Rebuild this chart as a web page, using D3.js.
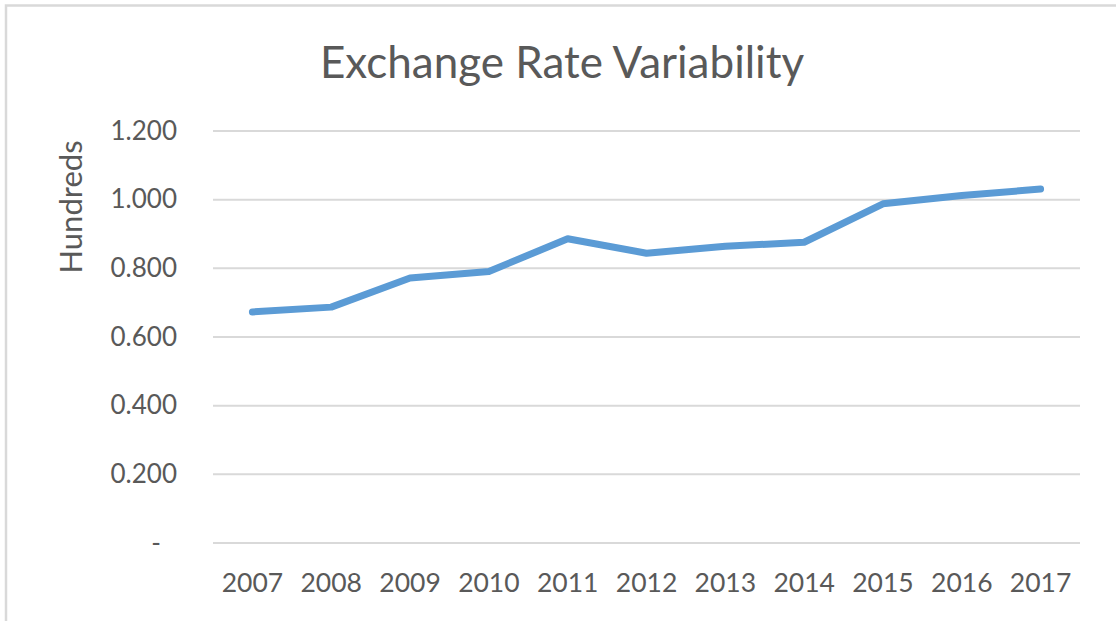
<!DOCTYPE html>
<html>
<head>
<meta charset="utf-8">
<script src="https://cdn.jsdelivr.net/npm/d3@7"></script>
<style>
  body { margin: 0; background: #fff; }
  text { font-family: Lato, "Open Sans", sans-serif; fill: #595959; }
</style>
</head>
<body>
<div id="chart"></div>
<script>
// dados
var years = ["2007", "2008", "2009", "2010", "2011", "2012", "2013", "2014", "2015", "2016", "2017"];
var values = [0.673, 0.687, 0.772, 0.791, 0.886, 0.844, 0.864, 0.876, 0.988, 1.012, 1.031];
var yTicks = [0, 0.2, 0.4, 0.6, 0.8, 1.0, 1.2];

var W = 1116, H = 621;
var margin = { top: 131, right: 36, bottom: 78, left: 213 },
  width = 1080 - margin.left,
  height = 543 - margin.top;

var svg = d3.select("#chart")
  .append("svg")
  .attr("width", W)
  .attr("height", H);

// borda do gráfico (só topo e esquerda aparecem)
svg.append("rect")
  .attr("x", 6)
  .attr("y", 5.5)
  .attr("width", 1300)
  .attr("height", 800)
  .attr("fill", "none")
  .attr("stroke", "#d9d9d9")
  .attr("stroke-width", 2.5);

svg.append("text")
  .attr("x", 562)
  .attr("y", 78)
  .attr("text-anchor", "middle")
  .style("font-size", "44px")
  .text("Exchange Rate Variability");

var g = svg.append("g")
  .attr("transform", "translate(" + margin.left + "," + margin.top + ")");

var x = d3.scaleBand()
  .domain(years)
  .range([0, width]);

var y = d3.scaleLinear()
  .domain([0, 1.2])
  .range([height, 0]);

// grid
g.append("g")
  .selectAll("line")
  .data(yTicks)
  .enter()
  .append("line")
  .attr("x1", 0)
  .attr("x2", width)
  .attr("y1", function (d) { return y(d) })
  .attr("y2", function (d) { return y(d) })
  .attr("stroke", "#d9d9d9")
  .attr("stroke-width", 2);

// eixo Y
var yAxis = g.append("g")
  .call(d3.axisLeft(y).tickValues(yTicks).tickSize(0).tickPadding(36)
    .tickFormat(function (d) { return d === 0 ? "-" : d3.format(".3f")(d); }));
yAxis.select(".domain").remove();
yAxis.selectAll("text")
  .style("font-size", "26px")
  .attr("fill", "#595959");
yAxis.selectAll(".tick text")
  .filter(function (d) { return d === 0; })
  .attr("dx", "-16");

// eixo X
var xAxis = g.append("g")
  .attr("transform", "translate(0," + height + ")")
  .call(d3.axisBottom(x).tickSize(0).tickPadding(30));
xAxis.select(".domain").remove();
xAxis.selectAll("text")
  .style("font-size", "26.5px")
  .attr("fill", "#595959");

svg.append("text")
  .attr("transform", "translate(82,207) rotate(-90)")
  .attr("text-anchor", "middle")
  .style("font-size", "31px")
  .text("Hundreds");

// linha
g.append("path")
  .datum(values)
  .attr("fill", "none")
  .attr("stroke", "#5b9bd5")
  .attr("stroke-width", 7)
  .attr("stroke-linecap", "round")
  .attr("stroke-linejoin", "round")
  .attr("d", d3.line()
    .x(function (d, i) { return x(years[i]) + x.bandwidth() / 2 })
    .y(function (d) { return y(d) })
  );
</script>
</body>
</html>
